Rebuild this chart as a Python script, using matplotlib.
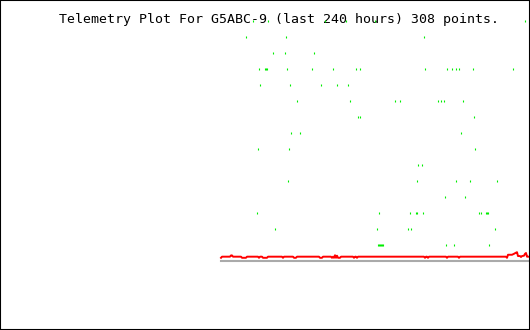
import matplotlib
matplotlib.use("Agg")
import matplotlib.pyplot as plt
from matplotlib.patches import Rectangle

title = "Telemetry Plot For G5ABC-9 (last 240 hours) 308 points."
n_points = 308

# green readings: sample index and level for each dot
green_x = [32, 47, 104, 125, 154, 304,
           25, 65, 203,
           52, 64, 93,
           38, 44, 45, 46, 66, 91, 112, 135, 139, 204, 226, 231, 235, 238, 252, 292,
           39, 69, 100, 116, 127,
           76, 129, 174, 179, 217, 220, 223, 242,
           137, 139, 253,
           70, 79, 240,
           37, 68, 254,
           197, 201,
           67, 196, 235, 249, 276,
           224, 244,
           36, 158, 189, 195, 196, 202, 258, 260, 265, 266, 267,
           54, 156, 187, 190, 274,
           157, 158, 159, 160, 161, 162, 225, 233, 268]
green_y = [15] * 6 + [14] * 3 + [13] * 3 + [12] * 16 + [11] * 5 + [10] * 8 \
    + [9] * 3 + [8] * 3 + [7] * 3 + [6] * 2 + [5] * 5 + [4] * 2 + [3] * 11 \
    + [2] * 5 + [1] * 9

# red readings (where the trace changes)
red_x = [0, 1, 9, 10, 11, 12, 20, 21, 25, 26, 37, 38, 39, 41, 42, 46, 47,
         61, 62, 63, 72, 73, 75, 76, 98, 99, 101, 102, 110, 111, 112, 113,
         114, 115, 116, 117, 119, 120, 132, 133, 134, 135, 136, 137,
         203, 204, 205, 206, 207, 208, 225, 226, 227, 237, 238, 239,
         285, 286, 287, 291, 293, 295, 296, 297, 299, 300, 301, 303, 304,
         305, 306, 307]
red_y = [0.2, 0.27, 0.27, 0.35, 0.35, 0.27, 0.27, 0.2, 0.2, 0.27, 0.27,
         0.2, 0.27, 0.27, 0.2, 0.2, 0.27,
         0.27, 0.2, 0.27, 0.27, 0.2, 0.2, 0.27, 0.27, 0.2, 0.2, 0.27,
         0.27, 0.2, 0.27, 0.2, 0.36, 0.2, 0.33, 0.2, 0.2, 0.27,
         0.27, 0.2, 0.27, 0.27, 0.2, 0.27,
         0.27, 0.2, 0.27, 0.27, 0.2, 0.27, 0.27, 0.2, 0.27, 0.27, 0.2,
         0.27,
         0.27, 0.2, 0.39, 0.39, 0.45, 0.52, 0.55, 0.31, 0.31, 0.25, 0.31,
         0.33, 0.45, 0.5, 0.27, 0.27]

fig = plt.figure(figsize=(5.3, 3.3), dpi=100)
fig.patch.set_facecolor("white")

ax = fig.add_axes([221 / 530, (330 - 261) / 330, 308 / 530, 256 / 330])
ax.set_xlim(0, n_points)
ax.set_ylim(0, 16)
ax.axis("off")

ax.axhline(0, color="#aaaaaa", lw=1.5, clip_on=False)
ax.plot(red_x, red_y, color="#ff0000", lw=1.4, clip_on=False)
ax.plot(green_x, green_y, linestyle="none", marker="|", ms=1.6, mew=0.8,
        color="#00ee00", clip_on=False)

# title sits under the dots
fig.text(279 / 530, (330 - 22.5) / 330, title, ha="center", va="baseline",
         family="DejaVu Sans Mono", fontsize=9.5, color="black", zorder=-1)

fig.patches.append(Rectangle((0, 0), 1, 1, transform=fig.transFigure,
                             fill=False, edgecolor="black", lw=1.5))

fig.savefig("out.png", dpi=100)
